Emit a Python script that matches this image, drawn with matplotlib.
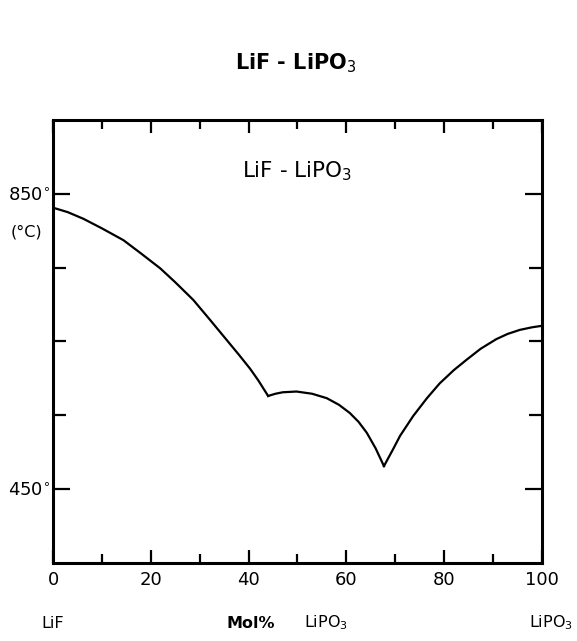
import matplotlib.pyplot as plt
from matplotlib.ticker import MultipleLocator

# liquidus (mol% LiPO3, deg C)
x_lif = [0, 3.0, 6.2, 10.0, 14.4, 18.0, 21.9, 25.0, 28.7, 32.0, 35.5,
         38.0, 40.3, 42.0, 44.0]
t_lif = [831, 825, 816, 803, 787, 769, 749, 730, 706, 680, 652,
         632, 613, 597, 576]

x_mid = [44.0, 45.5, 47.0, 49.8, 53.0, 56.0, 58.5, 60.7, 62.5, 64.2,
         66.0, 67.7]
t_mid = [576, 579, 581, 582, 579, 573, 564, 553, 541, 526,
         505, 481]

x_po3 = [67.7, 69.5, 71.0, 73.7, 76.5, 79.1, 82.0, 84.6, 87.5, 90.7,
         93.0, 95.5, 98.0, 100]
t_po3 = [481, 503, 522, 549, 573, 593, 611, 625, 640, 653,
         660, 665.5, 669, 671]

x_ticks = [0, 20, 40, 60, 80, 100]
y_major = [450, 850]
y_labels = ["450$^{\\circ}$", "850$^{\\circ}$"]

plt.rcParams["font.family"] = ["DejaVu Sans"]

fig = plt.figure(figsize=(5.77, 6.41), dpi=100)
ax = fig.add_axes([0.092, 0.122, 0.847, 0.691])

for xs, ts in [(x_lif, t_lif), (x_mid, t_mid), (x_po3, t_po3)]:
    ax.plot(xs, ts, color="black", lw=1.6, solid_joinstyle="round")

ax.set_xlim(0, 100)
ax.set_ylim(350, 950)

ax.set_xticks(x_ticks)
ax.set_xticklabels([str(v) for v in x_ticks], fontsize=13)
ax.xaxis.set_minor_locator(MultipleLocator(10))
ax.set_yticks(y_major)
ax.set_yticklabels(y_labels, fontsize=13)
ax.set_yticks([550, 650, 750], minor=True)

ax.tick_params(which="both", direction="in", top=True, right=True,
               width=1.6, color="black")
ax.tick_params(axis="x", which="major", length=9.5, pad=6)
ax.tick_params(axis="x", which="minor", length=6.5)
ax.tick_params(axis="y", which="major", length=12, pad=2)
ax.tick_params(axis="y", which="minor", length=9.5)

for s in ax.spines.values():
    s.set_linewidth(2.2)

ax.text(0.5, 0.883, "LiF - LiPO$_3$", transform=ax.transAxes,
        ha="center", va="center", fontsize=15.5)

fig.text(0.512, 0.902, "LiF - LiPO$_3$", ha="center", va="center",
         fontsize=15, fontweight="bold")
fig.text(0.045, 0.638, "(°C)", ha="center", va="center", fontsize=11.5)

fig.text(0.092, 0.028, "LiF", ha="center", va="center", fontsize=11.5)
fig.text(0.435, 0.028, "Mol%", ha="center", va="center", fontsize=11.5,
         fontweight="bold")
fig.text(0.565, 0.028, "LiPO$_3$", ha="center", va="center", fontsize=11.5)
fig.text(0.955, 0.028, "LiPO$_3$", ha="center", va="center", fontsize=11.5)

fig.savefig("out.png", dpi=100)
